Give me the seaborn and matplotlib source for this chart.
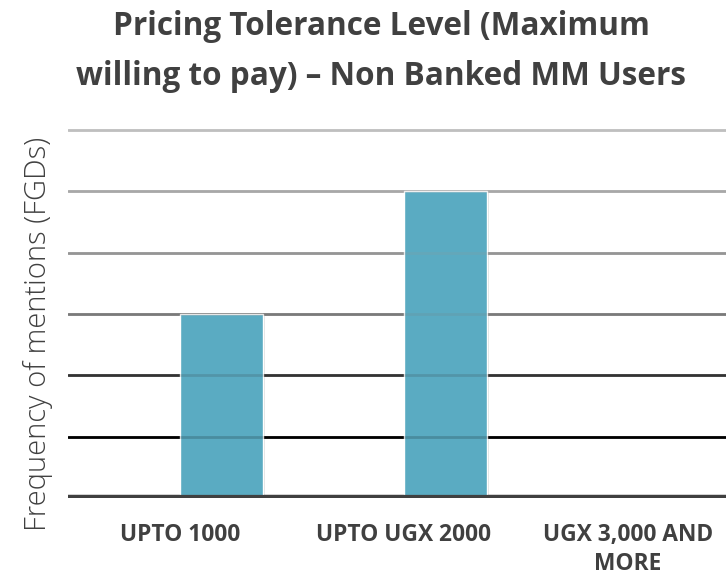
import matplotlib
matplotlib.use("Agg")
import matplotlib.pyplot as plt
import matplotlib.patheffects as pe
import seaborn as sns
import pandas as pd

categories = ["UPTO 1000", "UPTO UGX 2000", "UGX 3,000 AND\nMORE"]
values = [3, 5, 0]
series_levels = ["(empty)", "Frequency"]
grid_values = [0, 1, 2, 3, 4, 5, 6]
grid_colors = ["#404040", "#000000", "#333333", "#7a7a7a", "#959595", "#a8a8a8", "#bfbfbf"]

df = pd.DataFrame({"cat": categories, "val": values, "series": "Frequency"})

sns.set_theme(style="white")
plt.rcParams["font.family"] = ["Open Sans", "DejaVu Sans"]

W, H = 726, 577
fig = plt.figure(figsize=(W / 100, H / 100), dpi=100)
ax = fig.add_axes([68 / W, (H - 498) / H, 672 / W, (498 - 128) / H])

sns.barplot(data=df, x="cat", y="val", hue="series", hue_order=series_levels,
            palette={"(empty)": "#5aabc2", "Frequency": "#5aabc2"},
            saturation=1, width=0.74, gap=0, dodge=True, legend=False,
            ax=ax, zorder=2)
for p in ax.patches:
    p.set_path_effects([pe.SimplePatchShadow(offset=(1.5, -1.5), shadow_rgbFace="#000000", alpha=0.12),
                        pe.Normal()])

ax.set_xlim(-0.5, 2.5)
ax.set_ylim(0, 6.03)
ax.set_yticks(grid_values)
ax.set_yticklabels([])
ax.tick_params(axis="y", length=0)
ax.tick_params(axis="x", length=0, pad=18)

for v, c in zip(grid_values, grid_colors):
    lw = 4.5 if v == 0 else 2
    ax.axhline(v, color=c, lw=lw, zorder=1)
    if v > 0:
        ax.axhline(v, color=c, lw=lw, alpha=0.18, zorder=3)
ax.axhline(0, color=grid_colors[0], lw=4.5, zorder=4)

for s in ax.spines.values():
    s.set_visible(False)

for lbl in ax.get_xticklabels():
    lbl.set_fontweight("bold")
    lbl.set_fontsize(16.4)
    lbl.set_color("#404040")
    lbl.set_linespacing(1.28)

ax.set_xlabel("")
ax.set_ylabel("Frequency of mentions (FGDs)", fontsize=21, color="#404040",
              fontweight="light")
ax.yaxis.set_label_coords(-0.022, 0.443)

fig.text(381 / W, 1 - 85 / H, "Pricing Tolerance Level (Maximum\nwilling to pay) – Non Banked MM Users",
         ha="center", va="baseline", fontsize=22.7, fontweight="bold", color="#404040",
         linespacing=1.69)

fig.savefig("out.png", dpi=100)
